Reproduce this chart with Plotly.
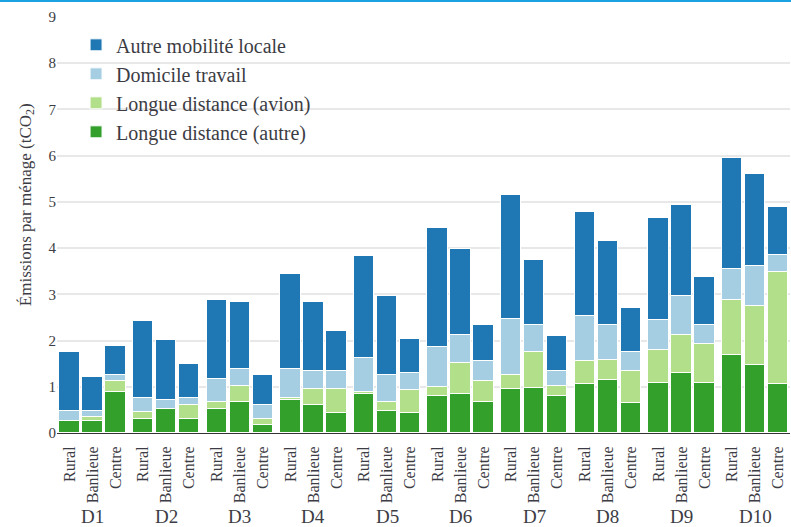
import plotly.graph_objects as go

deciles = ["D1", "D2", "D3", "D4", "D5", "D6", "D7", "D8", "D9", "D10"]
zones = ["Rural", "Banlieue", "Centre"]

# values per decile, in order Rural, Banlieue, Centre (tCO2 per household)
longue_autre = [0.26, 0.26, 0.885, 0.30, 0.51, 0.30, 0.51, 0.68, 0.18, 0.72, 0.60, 0.43,
                0.85, 0.48, 0.43, 0.81, 0.85, 0.68, 0.96, 0.97, 0.81, 1.05, 1.14, 0.64,
                1.09, 1.29, 1.09, 1.68, 1.47, 1.05]
longue_avion = [0.0, 0.09, 0.245, 0.16, 0.0, 0.30, 0.16, 0.33, 0.12, 0.03, 0.36, 0.53,
                0.04, 0.20, 0.50, 0.19, 0.66, 0.45, 0.29, 0.78, 0.20, 0.50, 0.45, 0.70,
                0.71, 0.84, 0.83, 1.19, 1.28, 2.44]
domicile_travail = [0.21, 0.12, 0.13, 0.295, 0.20, 0.155, 0.50, 0.37, 0.30, 0.63, 0.38, 0.38,
                    0.74, 0.58, 0.36, 0.87, 0.62, 0.42, 1.21, 0.58, 0.33, 0.99, 0.74, 0.42,
                    0.65, 0.83, 0.41, 0.67, 0.87, 0.37]
autre_locale = [1.28, 0.75, 0.62, 1.665, 1.30, 0.745, 1.70, 1.45, 0.65, 2.07, 1.49, 0.87,
                2.19, 1.70, 0.75, 2.57, 1.86, 0.78, 2.68, 1.41, 0.75, 2.24, 1.83, 0.95,
                2.20, 1.98, 1.04, 2.40, 1.98, 1.04]

series = [
    ("Longue distance (autre)", longue_autre, "#33a02c"),
    ("Longue distance (avion)", longue_avion, "#b2df8a"),
    ("Domicile travail", domicile_travail, "#a6cee3"),
    ("Autre mobilité locale", autre_locale, "#1f78b4"),
]

GROUP_STEP = 3.2
xpos = [g * GROUP_STEP + j for g in range(len(deciles)) for j in range(len(zones))]
xtext = [z for _ in deciles for z in zones]

FONT = "Liberation Serif"
TXT = "#3c3c44"

fig = go.Figure()
for name, vals, col in series:
    fig.add_trace(go.Bar(
        x=xpos, y=vals, name=name, width=0.89,
        marker=dict(color=col, line=dict(color="white", width=1)),
    ))

shapes = []
for g in range(len(deciles) - 1):
    xd = g * GROUP_STEP + 2 + (GROUP_STEP - 2) / 2
    shapes.append(dict(type="line", xref="x", yref="paper", x0=xd, x1=xd, y0=0.0, y1=1.0,
                       line=dict(color="white", width=3), layer="between"))
shapes.append(dict(type="line", xref="paper", yref="paper", x0=-0.1, x1=1.05,
                   y0=1.039, y1=1.039, line=dict(color="#1ba3e1", width=2.5)))

annotations = []
for g, d in enumerate(deciles):
    annotations.append(dict(x=g * GROUP_STEP + 1, xref="x", y=-0.2, yref="paper",
                            text=d, showarrow=False, yanchor="middle",
                            font=dict(family=FONT, size=19, color=TXT)))
annotations.append(dict(x=-0.041, xref="paper", y=0.55, yref="paper",
                        text="Émissions par ménage (tCO<sub>2</sub>)", textangle=-90,
                        showarrow=False, xanchor="center", yanchor="middle",
                        font=dict(family=FONT, size=17, color=TXT)))

fig.update_layout(
    width=791, height=527,
    margin=dict(l=57, r=1, t=17, b=94),
    paper_bgcolor="white", plot_bgcolor="white",
    barmode="stack",
    showlegend=True,
    legend=dict(x=0.026, y=0.98, xanchor="left", yanchor="top", traceorder="reversed",
                font=dict(family=FONT, size=20, color=TXT), bgcolor="rgba(0,0,0,0)"),
    xaxis=dict(range=[-0.55, 31.32], tickmode="array", tickvals=xpos, ticktext=xtext,
               tickangle=-90, tickfont=dict(family=FONT, size=16, color=TXT),
               showgrid=False, zeroline=False, showline=True, linecolor="#333333",
               linewidth=1, ticks="", ticklabelstandoff=6, automargin=False),
    yaxis=dict(range=[0, 9], dtick=1, showgrid=True, gridcolor="#e8e8e8", gridwidth=1.5,
               zeroline=False, tickfont=dict(family=FONT, size=15, color=TXT), ticks="",
               automargin=False),
    shapes=shapes,
    annotations=annotations,
    bargap=0,
)

fig.write_html("out.html", config={"displayModeBar": False},
               post_script="document.body.style.margin='0';document.body.style.overflow='hidden';")
